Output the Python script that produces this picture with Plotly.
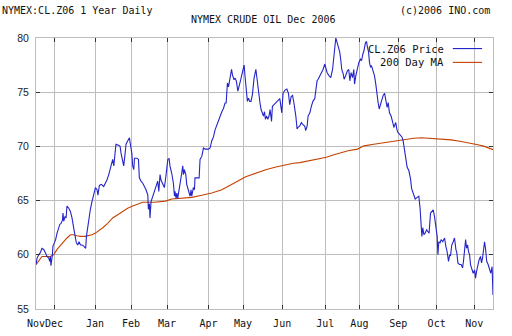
import plotly.graph_objects as go

# Trading-day index (0 = left edge, mid-Nov 2005) and closing price
price_day = [0.0, 0.6, 1.5, 2.4, 3.3, 4.3, 5.2, 6.1, 7.1, 7.6, 8.0, 8.3, 9.1, 9.4, 10.2, 10.9, 11.7, 12.6, 13.2, 13.9,
             14.7, 15.0, 15.4, 16.1, 16.7, 17.2, 18.2, 19.1, 20.0, 20.9, 21.9, 22.4, 23.2, 23.9, 24.7, 25.6, 26.5, 27.6, 28.0, 28.7,
             29.4, 30.2, 31.1, 32.1, 33.0, 33.9, 34.4, 35.2, 36.3, 37.6, 38.3, 39.4, 40.4, 41.3, 42.1, 42.6, 43.2, 43.6, 44.4, 45.8,
             46.7, 47.2, 48.2, 48.7, 49.4, 50.0, 50.9, 51.9, 52.4, 53.2, 53.7, 54.3, 54.7, 56.1, 56.9, 57.4, 58.3, 59.3, 60.2, 61.1,
             62.1, 62.4, 63.0, 63.3, 63.9, 64.8, 65.8, 66.7, 67.6, 68.2, 68.9, 69.4, 70.4, 71.3, 72.1, 73.2, 73.9, 74.4, 75.4, 76.3,
             76.9, 77.2, 77.8, 78.2, 78.7, 79.4, 80.0, 80.9, 81.5, 81.9, 82.4, 83.2, 83.7, 84.7, 85.6, 86.1, 86.5, 87.4, 88.0, 88.3,
             90.6, 91.1, 92.1, 93.0, 93.9, 95.8, 96.7, 97.6, 98.6, 99.4, 100.4, 101.3, 102.2, 103.2, 104.1, 105.0, 105.6, 106.3, 106.9, 107.6,
             108.6, 109.1, 110.0, 110.6, 111.3, 112.1, 112.8, 113.7, 114.7, 115.6, 116.1, 116.9, 117.4, 118.0, 118.7, 119.4, 120.2, 121.1, 122.1, 122.6,
             123.2, 123.9, 124.4, 125.0, 125.8, 126.3, 126.9, 127.4, 128.0, 128.7, 129.4, 130.0, 130.8, 131.3, 132.2, 133.2, 134.1, 135.4, 136.5, 137.2,
             138.3, 139.3, 140.2, 140.9, 141.7, 142.5, 143.2, 143.7, 144.3, 145.0, 145.5, 146.5, 147.4, 148.3, 149.3, 149.8, 150.6, 151.1, 152.1, 153.0,
             153.9, 154.8, 155.4, 156.1, 156.7, 157.6, 158.6, 159.4, 160.4, 160.9, 161.7, 162.8, 163.7, 164.7, 165.4, 165.9, 166.5, 167.2, 168.0, 168.7,
             169.3, 169.8, 170.6, 171.1, 171.9, 173.0, 173.7, 174.3, 175.0, 175.8, 176.5, 176.9, 177.6, 178.4, 179.3, 180.2, 180.8, 181.5, 182.1, 183.0,
             183.6, 183.9, 184.7, 185.2, 185.8, 186.3, 187.2, 188.0, 188.7, 189.4, 190.0, 190.6, 191.3, 192.1, 192.8, 193.6, 194.3, 195.0, 195.6, 196.3,
             197.2, 197.8, 198.3, 198.7, 199.3, 199.8, 200.4, 200.9, 201.7, 202.4, 203.3, 203.9, 204.3, 204.8, 205.4, 206.1, 207.1, 208.0, 208.6, 209.3,
             209.8, 210.6, 211.7, 212.6, 213.3, 213.7, 214.3, 214.8, 215.4, 216.1, 216.9, 217.6, 218.3, 219.1, 219.8, 220.6, 221.3, 222.2, 222.8, 223.2,
             223.7, 224.4, 225.0, 225.9, 226.9, 227.6, 228.3, 229.1, 229.7, 230.2, 230.9, 231.7, 232.4, 233.2, 233.7, 234.3, 235.2, 236.1, 236.9, 237.4,
             238.0, 238.6, 239.1, 239.7, 240.2, 240.8, 241.3, 242.1, 242.8, 243.6, 244.1, 244.7, 245.4, 246.1, 246.9, 247.4, 248.0, 248.7, 249.1, 249.7,
             250.3, 251.1, 251.8, 252.6, 253.3, 253.8]
price_val = [59.1, 59.7, 60.0, 60.2, 60.6, 60.5, 60.2, 59.85, 59.7, 59.4, 59.85, 59.0, 60.0, 60.8, 61.1, 61.4, 62.0, 62.5, 62.8, 62.9,
             63.2, 63.85, 63.1, 63.5, 63.4, 64.5, 64.3, 64.0, 63.4, 62.5, 61.4, 61.1, 60.9, 61.2, 60.9, 60.9, 60.8, 60.6, 61.7, 62.6,
             63.4, 64.2, 64.9, 65.5, 66.2, 66.0, 65.5, 66.4, 66.5, 66.3, 66.5, 66.9, 67.4, 68.0, 68.5, 68.8, 68.2, 69.1, 70.2, 70.1,
             70.0, 69.4, 68.5, 68.2, 69.2, 70.2, 70.5, 70.8, 70.2, 69.4, 68.2, 67.85, 68.9, 68.9, 68.8, 67.1, 66.8, 66.6, 66.3, 66.0,
             65.5, 64.2, 64.7, 63.4, 64.9, 65.4, 65.85, 66.3, 66.8, 65.85, 67.4, 66.9, 66.5, 66.2, 67.2, 68.8, 68.9, 68.2, 67.5, 66.6,
             65.4, 65.85, 65.2, 65.7, 65.2, 65.85, 66.5, 67.5, 68.2, 67.4, 67.85, 67.4, 66.5, 66.0, 65.4, 66.0, 65.4, 66.2, 66.0, 67.1,
             67.1, 68.8, 69.1, 69.85, 69.75, 69.75, 69.85, 70.5, 70.9, 71.5, 72.0, 72.3, 72.9, 73.2, 73.5, 74.0, 74.0, 75.85, 75.5, 76.3,
             77.1, 76.6, 76.15, 76.3, 76.0, 75.1, 75.7, 76.15, 76.9, 77.5, 76.45, 74.9, 74.15, 74.45, 74.15, 74.15, 74.8, 76.3, 77.1, 76.45,
             75.5, 74.9, 74.0, 73.4, 73.1, 72.8, 73.2, 72.5, 72.8, 72.5, 72.8, 73.4, 72.3, 73.7, 73.85, 74.0, 74.15, 74.4, 73.1, 74.9,
             75.2, 75.3, 74.9, 73.85, 74.6, 74.7, 74.05, 73.6, 72.8, 71.6, 71.75, 71.9, 72.2, 72.0, 71.85, 71.45, 71.9, 72.8, 73.1, 73.75,
             74.2, 74.4, 75.0, 76.05, 76.2, 76.5, 76.8, 77.1, 77.6, 77.3, 76.8, 76.5, 76.35, 77.1, 78.5, 79.45, 80.0, 79.6, 79.1, 78.7,
             77.9, 77.1, 76.7, 76.2, 76.5, 77.0, 77.1, 76.05, 76.8, 76.35, 77.1, 75.75, 76.5, 77.2, 77.75, 78.05, 77.9, 78.5, 78.8, 79.6,
             79.65, 79.3, 78.7, 77.75, 77.3, 77.45, 77.0, 76.5, 75.75, 74.5, 74.05, 73.45, 73.9, 74.4, 74.7, 74.9, 74.05, 73.6, 74.05, 73.1,
             72.8, 72.5, 72.1, 71.75, 72.1, 72.2, 71.6, 71.3, 71.15, 71.0, 70.85, 70.5, 70.05, 69.3, 68.7, 68.1, 67.75, 67.0, 66.1, 65.75,
             65.6, 65.15, 65.3, 65.4, 64.3, 62.6, 61.7, 62.5, 61.85, 62.0, 62.3, 62.15, 62.0, 63.85, 64.0, 64.15, 63.55, 62.6, 61.7, 60.0,
             61.2, 61.1, 61.4, 61.2, 61.55, 60.8, 60.3, 59.4, 60.0, 59.9, 60.9, 61.2, 61.55, 60.5, 60.2, 59.25, 59.1, 59.1, 58.8, 59.4,
             60.6, 61.4, 60.6, 60.9, 60.3, 60.0, 59.1, 58.6, 58.3, 58.6, 57.85, 58.5, 59.1, 59.55, 59.85, 59.25, 59.7, 60.9, 61.2, 60.5,
             59.4, 59.1, 58.6, 58.3, 58.9, 56.3]

# 200-day moving average
ma_day = [0.0, 1.5, 3.3, 8.0, 9.8, 11.7, 13.6, 15.4, 17.2, 19.1, 20.9, 22.8, 24.7, 27.4, 29.3, 31.1, 33.0, 34.8, 37.1, 39.8,
          42.6, 45.4, 48.2, 50.9, 53.7, 56.5, 59.3, 65.8, 71.9, 75.4, 80.9, 86.5, 92.1, 97.6, 103.2, 107.4, 110.9, 116.5, 122.1, 127.6,
          133.2, 138.7, 143.0, 146.5, 152.1, 157.6, 161.3, 165.0, 168.7, 173.3, 178.6, 182.1, 187.6, 193.2, 198.7, 204.3, 209.8, 214.1, 223.2, 230.6,
          236.1, 241.7, 245.4, 249.1, 253.8]
ma_val = [59.1, 59.4, 59.85, 59.85, 60.0, 60.5, 60.9, 61.2, 61.55, 61.85, 61.85, 61.75, 61.7, 61.7, 61.75, 61.85, 62.0, 62.2, 62.5, 62.9,
          63.4, 63.7, 64.0, 64.3, 64.5, 64.7, 64.85, 64.85, 64.95, 65.15, 65.25, 65.3, 65.5, 65.7, 66.0, 66.35, 66.7, 67.2, 67.55, 67.85,
          68.1, 68.3, 68.45, 68.5, 68.7, 68.85, 69.0, 69.2, 69.4, 69.6, 69.75, 70.05, 70.2, 70.35, 70.45, 70.6, 70.75, 70.8, 70.7, 70.6,
          70.45, 70.3, 70.15, 70.0, 69.7]

month_ticks = [0.0, 10.0, 32.8, 52.8, 72.8, 95.8, 115.0, 136.7, 160.6, 179.6, 201.2, 222.5, 243.4]
month_labels = ["Nov", "Dec", "Jan", "Feb", "Mar", "Apr", "May", "Jun", "Jul", "Aug", "Sep", "Oct", "Nov"]
y_ticks = [55, 60, 65, 70, 75, 80]

series_names = ["CL.Z06 Price", "200 Day MA"]
series_colors = ["#2424c8", "#c44200"]

MONO = "DejaVu Sans Mono"
GRID = "#bdbdbd"
TICK = "#333333"

fig = go.Figure()
fig.add_trace(go.Scatter(x=ma_day, y=ma_val, mode="lines", name=series_names[1],
                         line=dict(color=series_colors[1], width=1.1)))
fig.add_trace(go.Scatter(x=price_day, y=price_val, mode="lines", name=series_names[0],
                         line=dict(color=series_colors[0], width=1.1)))

fig.update_layout(
    width=512, height=336,
    margin=dict(l=36, r=19, t=38, b=27),
    paper_bgcolor="white", plot_bgcolor="white",
    showlegend=False,
    font=dict(family=MONO, size=10, color="#111111"),
)
fig.update_xaxes(
    range=[0, 253.8], tickmode="array", tickvals=month_ticks, ticktext=month_labels,
    tickangle=0, automargin=False,
    showgrid=True, gridcolor=GRID, gridwidth=1, zeroline=False,
    showline=True, linecolor=GRID, linewidth=1, mirror="ticks",
    ticks="inside", ticklen=4, tickcolor=TICK, tickwidth=1,
    tickfont=dict(family=MONO, size=10, color="#111111"), ticklabelstandoff=5,
)
fig.update_yaxes(
    range=[55, 80], tickmode="array", tickvals=y_ticks, automargin=False,
    showgrid=True, gridcolor=GRID, gridwidth=1, zeroline=False,
    showline=True, linecolor=GRID, linewidth=1, mirror="ticks",
    ticks="inside", ticklen=4, tickcolor=TICK, tickwidth=1,
    tickfont=dict(family="Liberation Sans", size=10.5, color="#222222"), ticklabelstandoff=4,
)

# legend box (legend sample lines sit to the right of the text)
fig.add_shape(type="rect", xref="paper", yref="paper", x0=0.737, x1=0.998, y0=0.885, y1=0.998,
              fillcolor="white", line=dict(width=0), layer="between")
for i, (nm, col) in enumerate(zip(series_names, series_colors)):
    yy = 0.961 - i * 0.051
    fig.add_annotation(text=nm, xref="paper", yref="paper", x=0.898, y=yy, xanchor="right", yanchor="middle",
                       showarrow=False, font=dict(family=MONO, size=10.5, color="#111111"))
    fig.add_shape(type="line", xref="paper", yref="paper", x0=0.912, x1=0.976, y0=yy, y1=yy,
                  line=dict(color=col, width=1.1))

fig.add_annotation(text="NYMEX:CL.Z06 1 Year Daily", xref="paper", yref="paper", x=-0.079, y=1.103,
                   xanchor="left", yanchor="middle", showarrow=False, font=dict(family=MONO, size=10, color="#111111"))
fig.add_annotation(text="(c)2006 INO.com", xref="paper", yref="paper", x=0.998, y=1.103,
                   xanchor="right", yanchor="middle", showarrow=False, font=dict(family=MONO, size=10, color="#111111"))
fig.add_annotation(text="NYMEX CRUDE OIL Dec 2006", xref="paper", yref="paper", x=0.497, y=1.070,
                   xanchor="center", yanchor="middle", showarrow=False, font=dict(family=MONO, size=10, color="#111111"))

fig.write_html("out.html")
